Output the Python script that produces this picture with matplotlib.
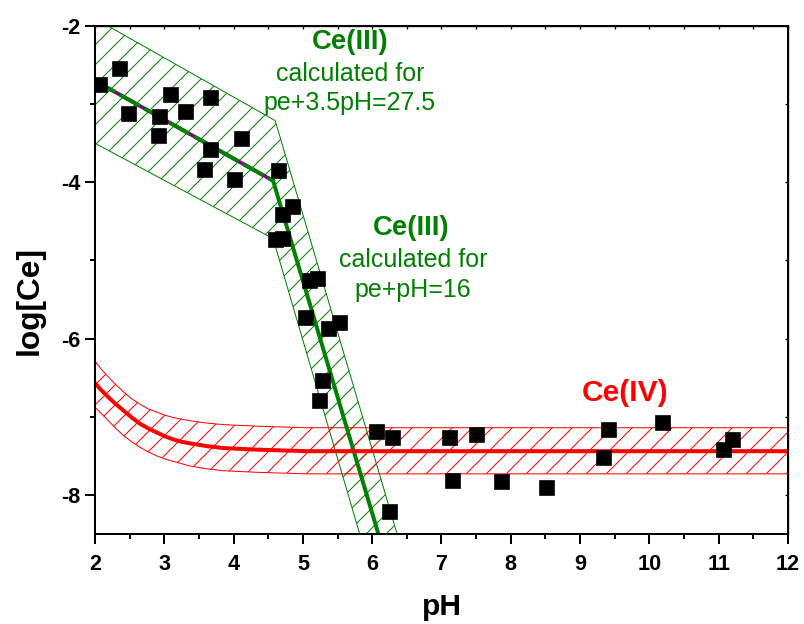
import numpy as np
import matplotlib
matplotlib.use('Agg')
import matplotlib.pyplot as plt
from matplotlib.ticker import MultipleLocator

plt.rcParams['font.family'] = ['Liberation Sans', 'DejaVu Sans']
plt.rcParams['axes.unicode_minus'] = False
plt.rcParams['hatch.linewidth'] = 0.6
plt.rcParams['lines.scale_dashes'] = False

GREEN = '#008000'
RED = '#ff0000'

# measured Ce concentrations
ph_obs = [2.07, 2.36, 2.49, 2.93, 2.94, 3.09, 3.31, 3.68, 3.68, 3.59, 4.12, 4.02,
          4.66, 4.86, 4.72, 4.71, 4.61, 5.10, 5.22, 5.04, 5.37, 5.53, 5.29, 5.24,
          6.07, 6.30, 7.13, 7.16, 7.51, 7.88, 8.52, 6.25, 9.42, 9.35, 10.19, 11.08, 11.21]
logce_obs = [-2.75, -2.55, -3.13, -3.41, -3.16, -2.88, -3.10, -2.92, -3.58, -3.84, -3.44, -3.97,
             -3.85, -4.32, -4.42, -4.73, -4.74, -5.26, -5.24, -5.73, -5.88, -5.80, -6.54, -6.80,
             -7.20, -7.27, -7.27, -7.82, -7.23, -7.84, -7.91, -8.22, -7.17, -7.53, -7.08, -7.43, -7.30]

# Ce(III) calculated line (kinked) and its uncertainty band
ce3_ph = [2.0, 4.57, 6.09]
ce3_log = [-2.70, -3.98, -8.50]
ce3_band_ph = [2.0, 4.60, 6.36, 5.82, 4.57, 2.0]
ce3_band_log = [-1.905, -3.21, -8.50, -8.50, -4.72, -3.50]

# Ce(IV) calculated curve and band
ce4_ph = [2.0, 2.08, 2.17, 2.29, 2.41, 2.53, 2.65, 2.77, 2.89, 3.01, 3.13, 3.25,
          3.37, 3.61, 3.85, 4.09, 4.33, 4.69, 5.05, 12.0]
ce4_log = [-6.57, -6.65, -6.73, -6.83, -6.92, -7.01, -7.09, -7.15, -7.20, -7.25, -7.29, -7.32,
           -7.34, -7.375, -7.40, -7.41, -7.42, -7.43, -7.44, -7.44]
ce4_upper = [-6.29, -6.38, -6.47, -6.58, -6.68, -6.77, -6.84, -6.90, -6.94, -6.98, -7.01, -7.03,
             -7.05, -7.08, -7.10, -7.11, -7.12, -7.13, -7.14, -7.14]
ce4_lower = [-6.88, -6.95, -7.03, -7.14, -7.24, -7.32, -7.39, -7.45, -7.50, -7.54, -7.57, -7.60,
             -7.63, -7.665, -7.69, -7.70, -7.71, -7.72, -7.73, -7.73]

fig = plt.figure(figsize=(6.7, 5.2), dpi=120)
ax = fig.add_axes([0.1182, 0.1442, 0.8618, 0.8141])

# bands
ax.fill(ce3_band_ph, ce3_band_log, facecolor='none', edgecolor=GREEN, hatch='//', lw=0.6, zorder=1)
ax.fill_between(ce4_ph, ce4_lower, ce4_upper, facecolor='none', edgecolor=RED,
                hatch='//', lw=0.6, zorder=1)

# lines
ax.plot(ce3_ph[:2], ce3_log[:2], color='#800080', lw=2.2, zorder=2)
ax.plot(ce3_ph[:2], ce3_log[:2], color=GREEN, lw=2.4, dashes=(14, 3), zorder=2)
ax.plot(ce3_ph[1:], ce3_log[1:], color=GREEN, lw=2.4, zorder=2)
ax.plot(ce4_ph, ce4_log, color=RED, lw=2.4, zorder=2)

ax.plot(ph_obs, logce_obs, 's', color='k', ms=8, zorder=3)

# annotations
ax.text(5.68, -2.20, 'Ce(III)', color=GREEN, fontsize=16.5, fontweight='bold', ha='center', va='center')
ax.text(5.68, -2.62, 'calculated for', color=GREEN, fontsize=15, ha='center', va='center')
ax.text(5.68, -2.99, 'pe+3.5pH=27.5', color=GREEN, fontsize=15, ha='center', va='center')
ax.text(6.57, -4.59, 'Ce(III)', color=GREEN, fontsize=16.5, fontweight='bold', ha='center', va='center')
ax.text(6.59, -5.00, 'calculated for', color=GREEN, fontsize=15, ha='center', va='center')
ax.text(6.59, -5.38, 'pe+pH=16', color=GREEN, fontsize=15, ha='center', va='center')
ax.text(9.65, -6.69, 'Ce(IV)', color=RED, fontsize=18, fontweight='bold', ha='center', va='center')

ax.set_xlim(2, 12)
ax.set_ylim(-8.5, -2)
ax.xaxis.set_major_locator(MultipleLocator(1))
ax.xaxis.set_minor_locator(MultipleLocator(0.5))
ax.yaxis.set_major_locator(MultipleLocator(2))
ax.yaxis.set_minor_locator(MultipleLocator(1))

for s in ax.spines.values():
    s.set_linewidth(1.2)
ax.tick_params(which='major', direction='out', length=6, width=1.2, labelsize=13)
ax.tick_params(axis='x', which='major', pad=6)
ax.tick_params(axis='y', which='major', pad=3)
ax.tick_params(which='minor', direction='out', length=3, width=1.2)
for lab in ax.get_xticklabels() + ax.get_yticklabels():
    lab.set_fontweight('bold')

# small inward ticks on top and right
top = ax.secondary_xaxis('top')
top.xaxis.set_major_locator(MultipleLocator(0.5))
top.tick_params(direction='in', length=2, width=0.8, labeltop=False)
right = ax.secondary_yaxis('right')
right.yaxis.set_major_locator(MultipleLocator(1))
right.tick_params(direction='in', length=2, width=0.8, labelright=False)

# axis titles
fig.text(442 / 804, 1 - 607 / 624, 'pH', fontsize=18, fontweight='bold', ha='center', va='center')
fig.text(30 / 804, 1 - 300 / 624, 'log[Ce]', fontsize=19, fontweight='bold',
         rotation=90, ha='center', va='center')

fig.savefig('out.png', dpi=120)
